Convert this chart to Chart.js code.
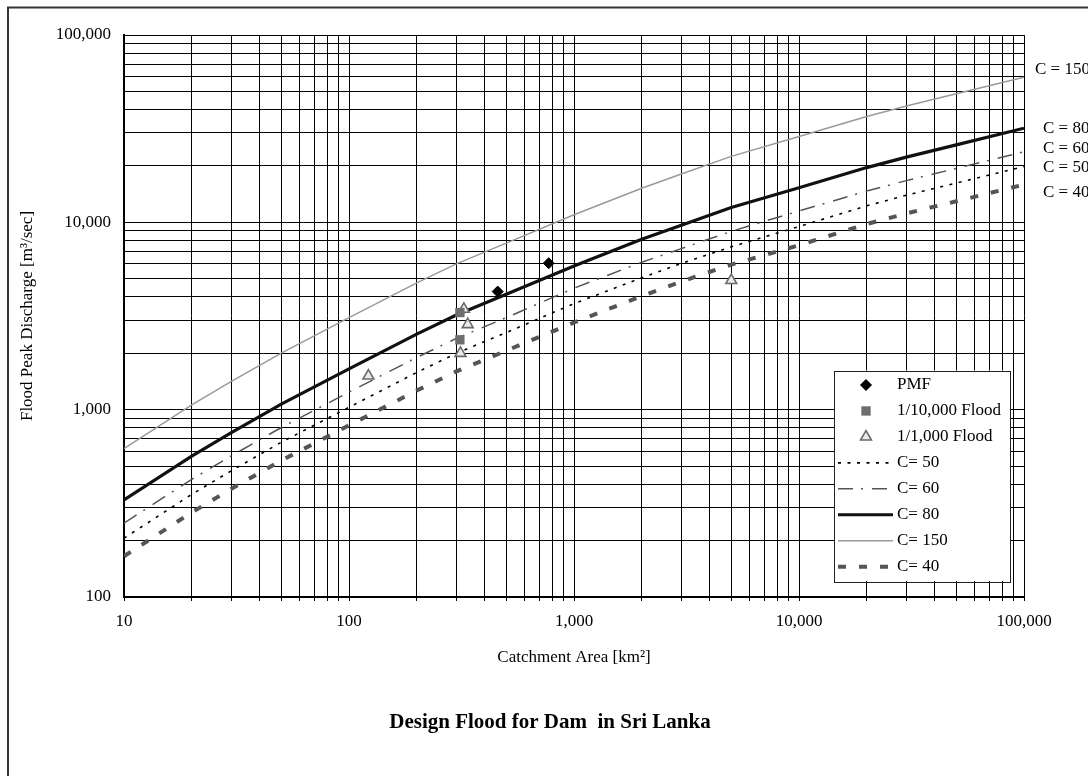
<!DOCTYPE html>
<html>
<head>
<meta charset="utf-8">
<script src="https://cdn.jsdelivr.net/npm/chart.js@4.4.1/dist/chart.umd.min.js"></script>
<style>
  html, body { margin: 0; padding: 0; background: #fff; }
  canvas { display: block; }
</style>
</head>
<body>
<canvas id="chart" width="1088" height="776"></canvas>
<script>
// Catchment areas (km²) at which the envelope curves are tabulated
const areaKm2 = [10, 20, 30, 50, 100, 200, 300, 500, 1000, 2000, 3000, 5000, 10000, 20000, 30000, 50000, 100000];

// Flood peak discharge (m³/sec) of each envelope curve
const qC40  = [165, 283, 378, 535, 825, 1265, 1600, 2065, 2920, 4040, 4830, 5950, 7550, 9800, 11150, 12950, 15900];
const qC50  = [206, 353, 472, 670, 1030, 1580, 2000, 2580, 3680, 5060, 6030, 7400, 9500, 12250, 13950, 16200, 19850];
const qC60  = [248, 425, 567, 803, 1240, 1900, 2400, 3100, 4450, 6120, 7240, 8950, 11500, 14700, 16700, 19400, 23800];
const qC80  = [330, 565, 755, 1070, 1650, 2530, 3200, 4130, 5850, 8120, 9650, 12000, 15300, 19600, 22300, 25900, 31800];
const qC150 = [620, 1060, 1415, 2005, 3100, 4750, 6000, 7750, 10970, 15200, 18100, 22500, 28700, 36700, 41800, 48600, 59600];

// Design floods of individual dams
const pmfArea = [458, 772];
const pmfQ = [4270, 6050];
const flood10kArea = [311, 311];
const flood10kQ = [3300, 2360];
const flood1kArea = [122, 313, 324, 337, 5000];
const flood1kQ = [1515, 2000, 3440, 2850, 4900];

// Axis decades and their labels
const gridSteps = [1, 2, 3, 4, 5, 6, 7, 8, 9];
const xDecades = [10, 100, 1000, 10000, 100000];
const xTickLabels = ['10', '100', '1,000', '10,000', '100,000'];
const yDecades = [100, 1000, 10000, 100000];
const yTickLabels = ['100', '1,000', '10,000', '100,000'];

// Labels written beside the curve ends
const curveTags = ['C = 150', 'C = 80', 'C = 60', 'C = 50', 'C = 40'];

const SERIF = "'Liberation Serif', 'Times New Roman', serif";

function pairs(xs, ys) { return xs.map((x, i) => ({ x: x, y: ys[i] })); }

function logGrid(decades) {
  const out = [];
  decades.forEach((d, i) => {
    if (i === decades.length - 1) { out.push(d); return; }
    gridSteps.forEach(s => out.push(d * s));
  });
  return out;
}
const xGrid = logGrid(xDecades);
const yGrid = logGrid(yDecades);

function curve(label, values, color, width, dash) {
  return {
    label: label, data: pairs(areaKm2, values), showLine: true,
    borderColor: color, backgroundColor: color, borderWidth: width,
    borderDash: dash, pointRadius: 0, pointHoverRadius: 0, tension: 0, fill: false
  };
}

const datasets = [
  { label: 'PMF', data: pairs(pmfArea, pmfQ), pointStyle: 'rectRot', pointRadius: 5.5,
    backgroundColor: '#000', borderColor: '#000', borderWidth: 1, showLine: false },
  { label: '1/10,000 Flood', data: pairs(flood10kArea, flood10kQ), pointStyle: 'rect', pointRadius: 6.6,
    backgroundColor: '#6e6e6e', borderColor: '#6e6e6e', borderWidth: 0, showLine: false },
  { label: '1/1,000 Flood', data: pairs(flood1kArea, flood1kQ), pointStyle: 'triangle', pointRadius: 6.3,
    backgroundColor: '#ececec', borderColor: '#6a6a6a', borderWidth: 1.6, showLine: false },
  curve('C= 50', qC50, '#000000', 1.6, [3, 6.5]),
  curve('C= 60', qC60, '#555555', 1.5, [15, 8, 2, 9]),
  curve('C= 80', qC80, '#111111', 3.2, []),
  curve('C= 150', qC150, '#9a9a9a', 1.5, []),
  curve('C= 40', qC40, '#555555', 4, [8, 13])
];

// Page frame lines
const framePlugin = {
  id: 'frame',
  beforeDraw(chart) {
    const ctx = chart.ctx;
    ctx.save();
    ctx.fillStyle = '#fff';
    ctx.fillRect(0, 0, chart.width, chart.height);
    ctx.strokeStyle = '#333';
    ctx.lineWidth = 2;
    ctx.beginPath();
    ctx.moveTo(8, chart.height);
    ctx.lineTo(8, 7.5);
    ctx.lineTo(chart.width, 7.5);
    ctx.stroke();
    ctx.restore();
  }
};

// Legend box inside the plot, curve tags and the caption below the axis
const notesPlugin = {
  id: 'notes',
  afterDatasetsDraw(chart) {
    const ctx = chart.ctx;
    const ca = chart.chartArea;
    const box = { left: ca.right - 190, top: ca.top + 335.5, right: ca.right - 14, bottom: ca.bottom - 16 };
    ctx.save();
    ctx.fillStyle = '#fff';
    ctx.fillRect(box.left, box.top, box.right - box.left, box.bottom - box.top);
    ctx.strokeStyle = '#222';
    ctx.lineWidth = 1;
    ctx.strokeRect(Math.round(box.left) + 0.5, Math.round(box.top) + 0.5,
      Math.round(box.right - box.left), Math.round(box.bottom - box.top));

    const rowY0 = box.top + 14.5;
    const rowStep = 25.95;
    const symX0 = box.left + 4, symX1 = box.left + 59, symMid = box.left + 32;
    const textX = box.left + 63;
    chart.data.datasets.forEach((ds, i) => {
      const y = rowY0 + i * rowStep;
      if (ds.showLine) {
        ctx.save();
        ctx.strokeStyle = ds.borderColor;
        ctx.lineWidth = ds.borderWidth;
        ctx.setLineDash(ds.borderDash || []);
        ctx.beginPath();
        ctx.moveTo(symX0, y);
        ctx.lineTo(symX1, y);
        ctx.stroke();
        ctx.restore();
      } else {
        ctx.save();
        ctx.fillStyle = ds.backgroundColor;
        ctx.strokeStyle = ds.borderColor;
        ctx.lineWidth = ds.borderWidth;
        Chart.helpers.drawPoint(ctx, {
          pointStyle: ds.pointStyle, radius: ds.pointRadius, rotation: 0, borderWidth: ds.borderWidth
        }, symMid, y);
        ctx.restore();
      }
      ctx.fillStyle = '#000';
      ctx.font = '17px ' + SERIF;
      ctx.textAlign = 'left';
      ctx.textBaseline = 'middle';
      ctx.fillText(ds.label, textX, y);
    });

    // tags at the right end of the curves
    const tagPos = [[11, 39], [19, 97.5], [19, 117.5], [19, 137], [19, 161.5]];
    ctx.font = '17px ' + SERIF;
    ctx.textBaseline = 'alphabetic';
    ctx.fillStyle = '#000';
    curveTags.forEach((t, i) => {
      ctx.fillText(t, ca.right + tagPos[i][0], ca.top + tagPos[i][1]);
    });

    // caption
    ctx.font = 'bold 21px ' + SERIF;
    ctx.textAlign = 'center';
    ctx.fillText('Design Flood for Dam  in Sri Lanka', 550, 727.5);
    ctx.restore();
  }
};

new Chart(document.getElementById('chart'), {
  type: 'scatter',
  data: { datasets: datasets },
  options: {
    responsive: false,
    animation: false,
    devicePixelRatio: 1,
    layout: { padding: { left: 0, top: 35, right: 64, bottom: 99 } },
    plugins: {
      legend: { display: false },
      tooltip: { enabled: false },
      title: { display: false }
    },
    scales: {
      x: {
        type: 'logarithmic', min: 10, max: 100000,
        afterFit(scale) { scale.height = 80; },
        afterBuildTicks(scale) { scale.ticks = xGrid.map(v => ({ value: v })); },
        grid: { color: '#000', lineWidth: 1, drawTicks: true, tickLength: 4 },
        border: { display: true, color: '#000', width: 2 },
        ticks: {
          autoSkip: false, maxRotation: 0, padding: 10, color: '#000',
          font: { family: SERIF, size: 17 },
          callback(value) { const k = xDecades.indexOf(value); return k >= 0 ? xTickLabels[k] : ''; }
        },
        title: {
          display: true, text: 'Catchment Area [km²]', color: '#000',
          font: { family: SERIF, size: 17 }, padding: { top: 0, bottom: 9 }
        }
      },
      y: {
        type: 'logarithmic', min: 100, max: 100000,
        afterFit(scale) { scale.width = 124; },
        afterBuildTicks(scale) { scale.ticks = yGrid.map(v => ({ value: v })); },
        grid: { color: '#000', lineWidth: 1, drawTicks: false },
        border: { display: true, color: '#000', width: 2 },
        ticks: {
          autoSkip: false, padding: 13, color: '#000',
          font: { family: SERIF, size: 17 },
          callback(value) { const k = yDecades.indexOf(value); return k >= 0 ? yTickLabels[k] : ''; }
        },
        title: {
          display: true, text: 'Flood Peak Discharge [m³/sec]', color: '#000',
          font: { family: SERIF, size: 17 }, padding: { top: 17, bottom: 0 }
        }
      }
    }
  },
  plugins: [framePlugin, notesPlugin]
});
</script>
</body>
</html>
